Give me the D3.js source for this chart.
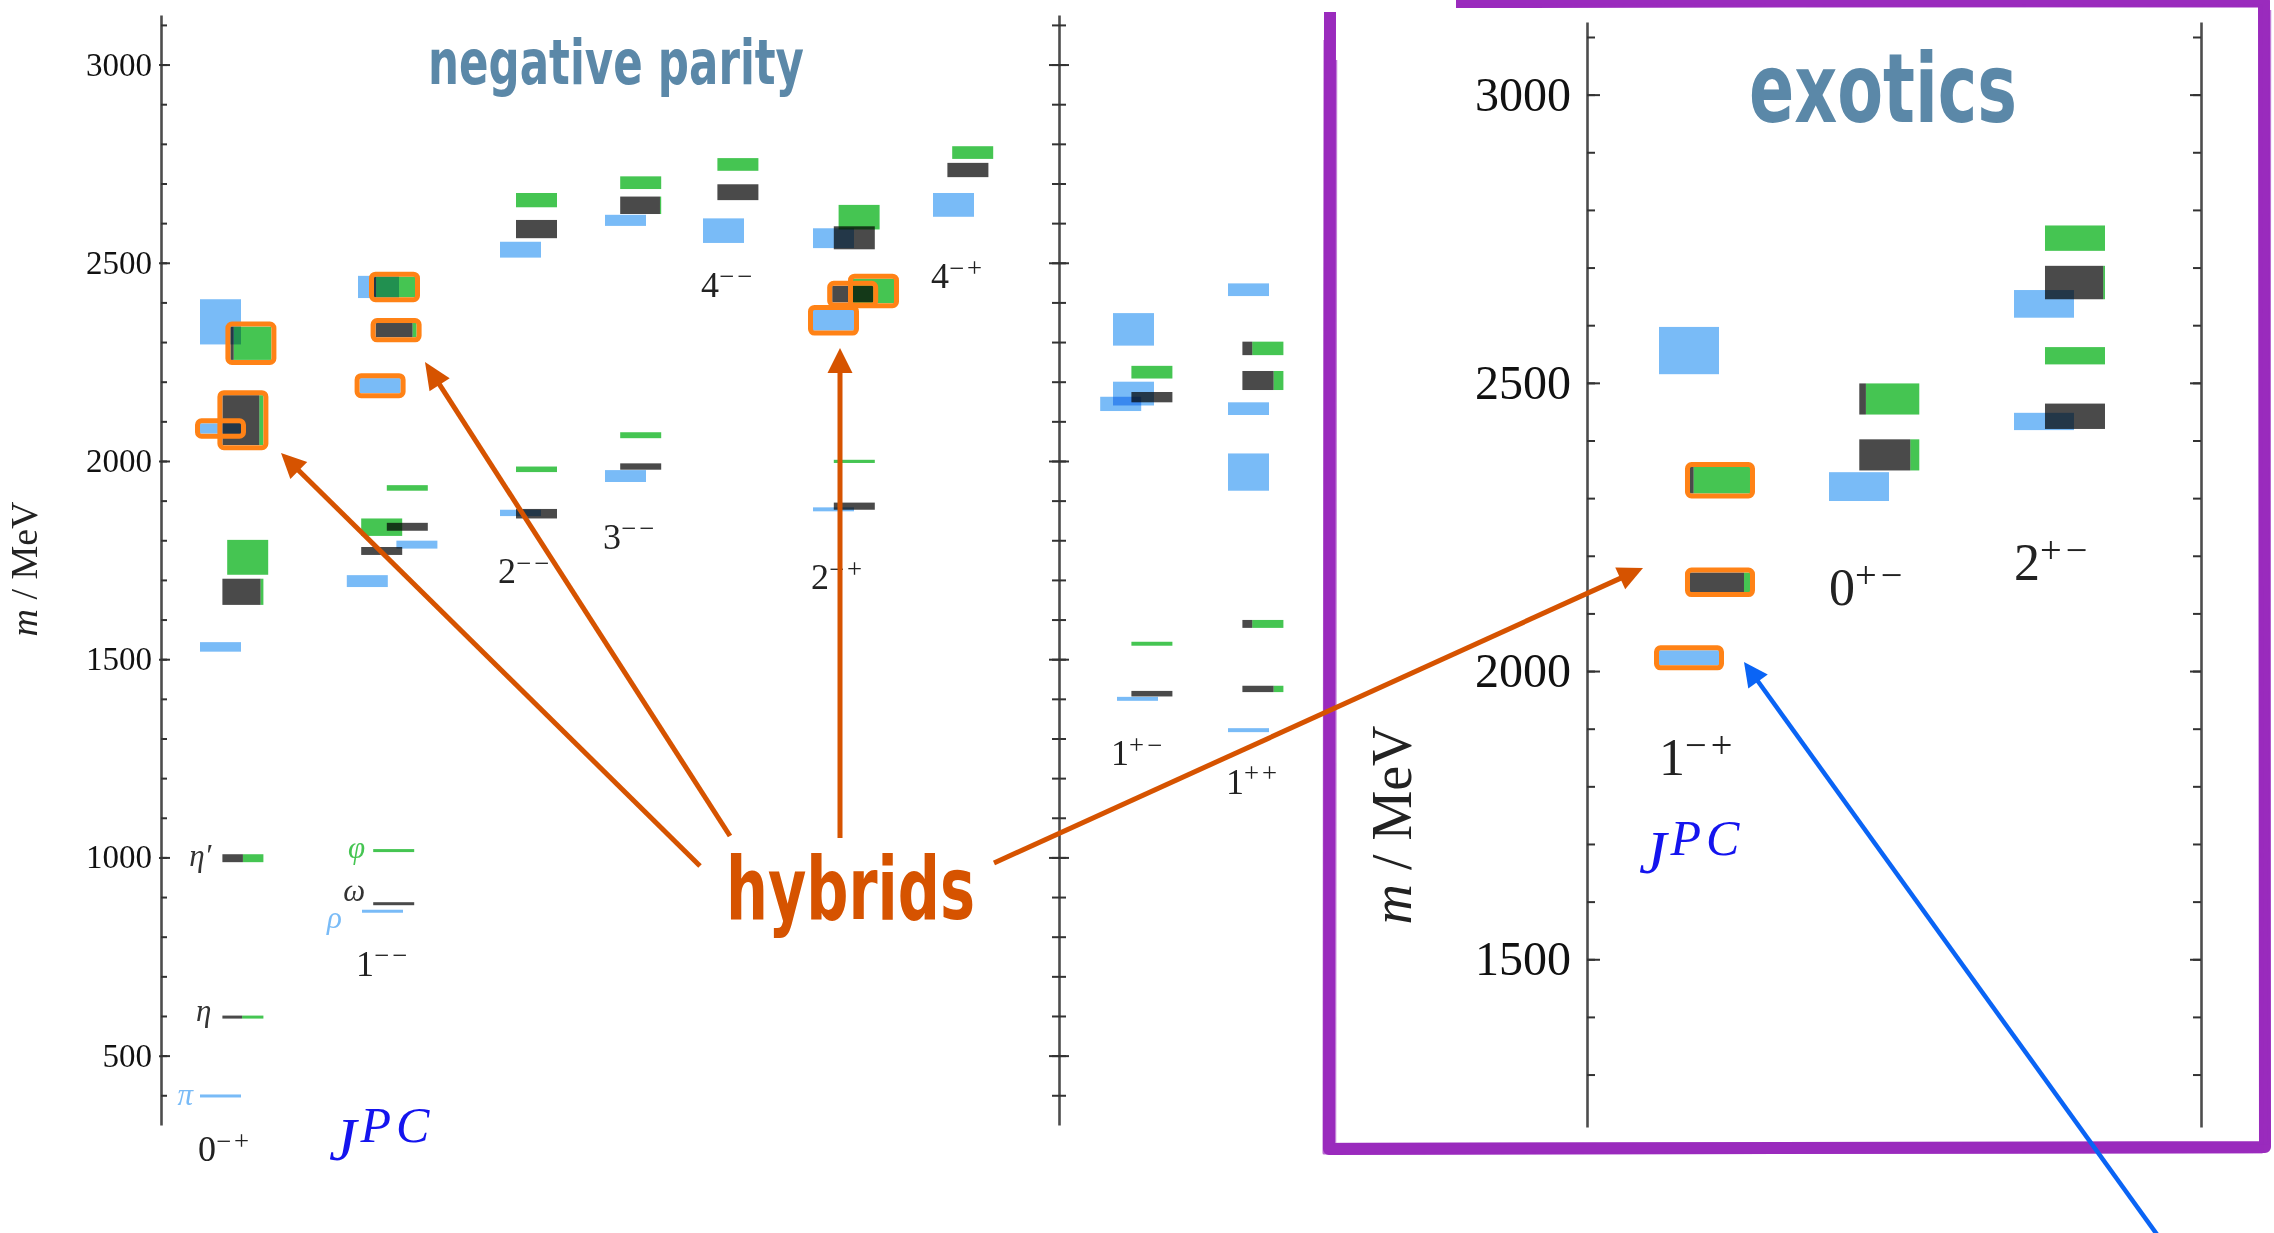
<!DOCTYPE html>
<html>
<head>
<meta charset="utf-8">
<script src="https://cdn.jsdelivr.net/npm/d3@7"></script>
<style>
  html, body { margin: 0; padding: 0; background: #fff; }
  svg { display: block; }
</style>
</head>
<body>
<svg id="chart" width="2274" height="1233"></svg>
<script>
// ---------- data ----------
const mainCols = ["0-+", "1--", "2--", "3--", "4--", "2-+", "4-+", "1+-", "1++"];
const exoticCols = ["1-+", "0+-", "2+-"];
const mainTicks = [500, 1000, 1500, 2000, 2500, 3000];
const exoticTicks = [1500, 2000, 2500, 3000];

// isovector states: [JPC, mass, error, slot, hybrid]
const isovector = [
  ["0-+", 399, 3, 0, 0], ["0-+", 1531, 12, 0, 0], ["0-+", 2082, 13, 0, 1], ["0-+", 2351, 57, 0, 0],
  ["1--", 865, 3, 0.25, 0], ["1--", 1697, 15, -0.7, 0], ["1--", 1789, 10, 2.4, 0],
  ["1--", 2190, 19, 0.1, 1], ["1--", 2439, 28, 0, 0],
  ["2--", 1869, 8, 0, 0], ["2--", 2533, 20, 0, 0],
  ["3--", 1962, 15, 0, 0], ["3--", 2607, 14, 0, 0],
  ["4--", 2581, 31, 0, 0],
  ["2-+", 1878, 5, 0, 0], ["2-+", 2355, 26, 0, 1], ["2-+", 2562, 25, 0, 0],
  ["4-+", 2646, 30, 0, 0],
  ["1+-", 1400, 5, 0.25, 0], ["1+-", 2144, 18, -0.8, 0], ["1+-", 2170, 30, 0, 0], ["1+-", 2332, 41, 0, 0],
  ["1++", 1321, 5, 0, 0], ["1++", 1972, 47, 0, 0], ["1++", 2132, 16, 0, 0], ["1++", 2432, 16, 0, 0]
];

// isoscalar states: [JPC, mass, error, slot, light fraction, hybrid]
const isoscalar = [
  ["0-+", 598, 3, 1.4, 0.48, 0], ["0-+", 998, 10, 1.4, 0.5, 0], ["0-+", 1670, 33, 1.4, 0.93, 0],
  ["0-+", 1757, 44, 1.7, 0, 0], ["0-+", 2103, 63, 1.4, 0.9, 1], ["0-+", 2297, 42, 1.9, 0.08, 1],
  ["1--", 884, 3, 0.95, 1, 0], ["1--", 1018, 3, 0.95, 0, 0], ["1--", 1773, 10, 0.2, 1, 0],
  ["1--", 1833, 22, 0.2, 0, 0], ["1--", 1834, 10, 1.8, 1, 0], ["1--", 1932, 7, 1.8, 0, 0],
  ["1--", 2330, 18, 1.1, 0.9, 1], ["1--", 2439, 26, 1.0, 0.05, 1],
  ["2--", 1867, 12, 1, 1, 0], ["2--", 1979, 7, 1, 0, 0], ["2--", 2585, 23, 1, 1, 0], ["2--", 2658, 18, 1, 0, 0],
  ["3--", 1986, 8, 0.95, 1, 0], ["3--", 2065, 7.5, 0.95, 0, 0], ["3--", 2645, 22, 0.95, 0.97, 0], ["3--", 2702, 16, 0.95, 0, 0],
  ["4--", 2678, 20, 0.9, 1, 0], ["4--", 2748, 16, 0.9, 0, 0],
  ["2-+", 1886, 9, 1.3, 1, 0], ["2-+", 1999, 4, 1.3, 0, 0], ["2-+", 2421, 21, 1.2, 1, 1],
  ["2-+", 2429, 31, 2.5, 0, 1], ["2-+", 2563, 29, 1.3, 1, 0], ["2-+", 2615, 31, 1.6, 0, 0],
  ["4-+", 2734, 18, 0.9, 1, 0], ["4-+", 2778, 16, 1.2, 0, 0],
  ["1+-", 1413, 7, 1.15, 1, 0], ["1+-", 1539, 5, 1.15, 0, 0], ["1+-", 2161, 13, 1.15, 1, 0], ["1+-", 2224, 16, 1.15, 0, 0],
  ["1++", 1425, 8, 0.9, 0.76, 0], ["1++", 1589, 10, 0.9, 0.24, 0], ["1++", 2203, 24, 0.9, 0.76, 0], ["1++", 2284, 17, 0.9, 0.24, 0]
];

const exoticIsovector = [
  ["1-+", 2023, 13, 0, 1], ["1-+", 2556, 41, 0, 0],
  ["0+-", 2320, 25, 0, 0],
  ["2+-", 2433, 15, 0, 0], ["2+-", 2637, 24, 0, 0]
];
const exoticIsoscalar = [
  ["1-+", 2154, 17, 1.33, 0.9, 1], ["1-+", 2331, 23, 1.33, 0.06, 1],
  ["0+-", 2375, 27, 1.3, 0.85, 0], ["0+-", 2472, 27, 1.3, 0.11, 0],
  ["2+-", 2442, 22, 1.33, 1, 0], ["2+-", 2547, 15, 1.33, 0, 0],
  ["2+-", 2674, 29, 1.33, 0.97, 0], ["2+-", 2751, 22, 1.33, 0, 0]
];

// named ground states: [name, JPC, mass, colour, slot]
const groundNames = [
  ["\u03c0", "0-+", 399, "blue", 0], ["\u03b7", "0-+", 598, "dark", 1.4], ["\u03b7\u2032", "0-+", 998, "dark", 1.4],
  ["\u03c1", "1--", 865, "blue", 0.25], ["\u03c9", "1--", 884, "dark", 0.95], ["\u03c6", "1--", 1018, "green", 0.95]
];

// ---------- layout ----------
const COL = {
  blue: "#79bbf7", dark: "#4a4a4a", green: "#45c552", orange: "#ff8216",
  title: "#5b88a8", hybrid: "#d65300", arrowBlue: "#0a64f5", jpc: "#1414ee", purple: "#9a2bbd", axis: "#4d4d4d"
};
const SERIF = "'Liberation Serif','DejaVu Serif',serif";
const NARROW = "'Liberation Sans Narrow','DejaVu Sans Condensed','Roboto','Arial Narrow',sans-serif";

const labelMassMain = {"0-+": 234, "1--": 701, "2--": 1692, "3--": 1778, "4--": 2414, "2-+": 1677, "4-+": 2436, "1+-": 1233, "1++": 1160};
const labelMassExo = {"1-+": 1820, "0+-": 2115, "2+-": 2158};

const svg = d3.select("#chart");
svg.append("rect").attr("width", 2274).attr("height", 1233).attr("fill", "#fff");

const yMain = d3.scaleLinear().domain([325, 3125]).range([1125, 15]);
const yExo = d3.scaleLinear().domain([1209, 3126]).range([1127, 22]);
const xMain = d3.scaleOrdinal().domain(mainCols).range([200, 358, 500, 605, 703, 813, 933, 1113, 1228]);
const xExo = d3.scaleOrdinal().domain(exoticCols).range([1659, 1829, 2014]);

function drawStates(g, vec, sca, x, y, w, unit) {
  let top = d => y(d[1] + d[2]);
  let hgt = d => Math.max(3, y(d[1] - d[2]) - y(d[1] + d[2]));
  let left = d => x(d[0]) + d[3] * unit;

  g.selectAll("rect.v").data(vec).join("rect").attr("class", "v")
    .attr("x", left).attr("y", top).attr("width", w).attr("height", hgt)
    .attr("fill", COL.blue).style("mix-blend-mode", "multiply");
  g.selectAll("rect.l").data(sca).join("rect").attr("class", "l")
    .attr("x", left).attr("y", top).attr("width", d => w * d[4]).attr("height", hgt)
    .attr("fill", COL.dark).style("mix-blend-mode", "multiply");
  g.selectAll("rect.s").data(sca).join("rect").attr("class", "s")
    .attr("x", d => left(d) + w * d[4]).attr("y", top).attr("width", d => w * (1 - d[4])).attr("height", hgt)
    .attr("fill", COL.green).style("mix-blend-mode", "multiply");

  let hyb = vec.filter(d => d[4]).concat(sca.filter(d => d[5]));
  g.selectAll("rect.h").data(hyb).join("rect").attr("class", "h")
    .attr("x", d => left(d) - 2.5).attr("y", d => top(d) - 2.5)
    .attr("width", w + 5).attr("height", d => hgt(d) + 5)
    .attr("rx", 4).attr("fill", "none").attr("stroke", COL.orange).attr("stroke-width", 5);
}

function styleAxis(g, fontSize) {
  g.select(".domain").attr("stroke", COL.axis).attr("stroke-width", 2.6);
  g.selectAll(".tick line").attr("stroke", "#333").attr("stroke-width", 2);
  g.selectAll(".tick text").attr("font-family", SERIF).attr("font-size", fontSize).attr("fill", "#111");
}

function axisPair(xPos, y, minor, major, right, left, labels, fontSize, pad) {
  let g = svg.append("g").attr("transform", `translate(${xPos},0)`);
  let fmt = d3.format("d");
  if (right) {
    g.append("g").call(d3.axisRight(y).tickValues(minor).tickSize(right[0]).tickSizeOuter(0).tickFormat(""));
    g.append("g").call(d3.axisRight(y).tickValues(major).tickSize(right[1]).tickSizeOuter(0).tickFormat(""));
  }
  if (left) {
    g.append("g").call(d3.axisLeft(y).tickValues(minor).tickSize(left[0]).tickSizeOuter(0).tickFormat(""));
    g.append("g").call(d3.axisLeft(y).tickValues(major).tickSize(left[1]).tickSizeOuter(0).tickFormat(""));
  }
  if (labels) {
    g.append("g").call(d3.axisLeft(y).tickValues(major).tickSize(0).tickPadding(pad).tickSizeOuter(0).tickFormat(fmt))
      .call(a => a.select(".domain").remove());
  }
  g.selectAll("g").each(function() { styleAxis(d3.select(this), fontSize); });
  g.selectAll("g").filter((d, i) => i > 0).select(".domain").remove();
  return g;
}

function jpcLabel(g, name, x, yb, size) {
  let t = g.append("text").attr("x", x).attr("y", yb)
    .attr("font-family", SERIF).attr("font-size", size).attr("fill", "#222");
  t.append("tspan").text(name[0]);
  t.append("tspan").attr("dy", -size * 0.32).attr("font-size", size * 0.74)
    .attr("letter-spacing", size * 0.08)
    .text(name.slice(1).replace(/-/g, "\u2212"));
}

function jpcTitle(x, yb) {
  let t = svg.append("text").attr("x", x).attr("y", yb)
    .attr("font-family", SERIF).attr("font-style", "italic").attr("fill", COL.jpc);
  t.append("tspan").attr("font-size", 62).text("J");
  t.append("tspan").attr("font-size", 50).attr("dy", -18).attr("dx", 4).attr("letter-spacing", 5).text("PC");
}

function massLabel(x, y, size) {
  let t = svg.append("text").attr("transform", `translate(${x},${y}) rotate(-90)`)
    .attr("text-anchor", "middle").attr("font-family", SERIF).attr("font-size", size).attr("fill", "#222");
  t.append("tspan").attr("font-style", "italic").text("m");
  t.append("tspan").text(" / MeV");
}

function arrow(g, x1, y1, x2, y2, color, w, len, half) {
  let dx = x2 - x1, dy = y2 - y1, L = Math.hypot(dx, dy), ux = dx / L, uy = dy / L;
  let bx = x2 - ux * len, by = y2 - uy * len;
  g.append("line").attr("x1", x1).attr("y1", y1).attr("x2", bx + ux * 3).attr("y2", by + uy * 3)
    .attr("stroke", color).attr("stroke-width", w);
  g.append("path").attr("d", `M${x2},${y2}L${bx - uy * half},${by + ux * half}L${bx + uy * half},${by - ux * half}Z`)
    .attr("fill", color);
}

// ---------- axes ----------
axisPair(161, yMain, d3.range(400, 3101, 100), mainTicks, [6, 9], [0, 2], true, 33, 9);
axisPair(1059, yMain, d3.range(400, 3101, 100), mainTicks, [7, 10], [7, 10], false, 33, 0);
axisPair(1587, yExo, d3.range(1300, 3101, 100), exoticTicks, [8, 13], null, true, 48, 16);
axisPair(2201, yExo, d3.range(1300, 3101, 100), exoticTicks, null, [8, 11], false, 48, 0);

massLabel(37, 569, 38);
massLabel(1411, 825, 56);

// ---------- states ----------
let gMain = svg.append("g");
drawStates(gMain, isovector, isoscalar, xMain, yMain, 41, 16);
let gExo = svg.append("g");
drawStates(gExo, exoticIsovector, exoticIsoscalar, xExo, yExo, 60, 23.3);

let gLab = svg.append("g");
mainCols.forEach(c => jpcLabel(gLab, c, xMain(c) - 2, yMain(labelMassMain[c]), 36));
exoticCols.forEach(c => jpcLabel(gLab, c, xExo(c), yExo(labelMassExo[c]), 52));

// label gap to the left of its line, and vertical shift
let nameGap = {"\u03c0": 7, "\u03b7": 11, "\u03b7\u2032": 11, "\u03c1": 20, "\u03c9": 8, "\u03c6": 8};
let nameDy = {"\u03c0": "0.3em", "\u03b7": "0.15em", "\u03b7\u2032": "0.25em", "\u03c1": "0.55em", "\u03c9": "-0.08em", "\u03c6": "0.25em"};
gLab.selectAll("text.nm").data(groundNames).join("text").attr("class", "nm")
  .attr("x", d => xMain(d[1]) + d[4] * 16 - nameGap[d[0]])
  .attr("y", d => yMain(d[2]))
  .attr("dy", d => nameDy[d[0]])
  .attr("text-anchor", "end")
  .attr("font-family", SERIF).attr("font-style", "italic").attr("font-size", 31)
  .attr("fill", d => d[3] === "blue" ? COL.blue : d[3] === "green" ? COL.green : "#333")
  .text(d => d[0]);

jpcTitle(329, 1160);
jpcTitle(1639, 873);

// ---------- titles ----------
svg.append("text").attr("x", 428).attr("y", 84)
  .attr("font-family", NARROW).attr("font-weight", "bold").attr("font-size", 62)
  .attr("fill", COL.title).attr("textLength", 376).attr("lengthAdjust", "spacingAndGlyphs")
  .text("negative parity");
svg.append("text").attr("x", 1749).attr("y", 122)
  .attr("font-family", NARROW).attr("font-weight", "bold").attr("font-size", 96)
  .attr("fill", COL.title).attr("textLength", 268).attr("lengthAdjust", "spacingAndGlyphs")
  .text("exotics");

// ---------- purple frame ----------
let frame = svg.append("g").attr("fill", "none").attr("stroke", COL.purple).attr("stroke-linejoin", "round");
let framePts = [[1456, 2], [2264, 1], [2265, 1147], [1329, 1149], [1330, 12]];
frame.append("path").attr("d", d3.line()(framePts)).attr("stroke-width", 12);
frame.append("path").attr("d", d3.line()([[1460, 5], [2261, 6], [2262, 1152], [1324, 1153], [1325, 40]]))
  .attr("stroke-width", 3).attr("opacity", 0.7);
frame.append("path").attr("d", d3.line()([[2270, 10], [2269, 1143], [1335, 1144], [1336, 60]]))
  .attr("stroke-width", 2.5).attr("opacity", 0.6);

// ---------- annotations ----------
let ann = svg.append("g");
arrow(ann, 700, 866, 281, 453, COL.hybrid, 5, 25, 12);
arrow(ann, 730, 836, 425, 362, COL.hybrid, 5, 27, 12);
arrow(ann, 840, 838, 840, 348, COL.hybrid, 5, 25, 12.5);
arrow(ann, 994, 863, 1643, 568, COL.hybrid, 5, 25, 12);
arrow(ann, 2161, 1240, 1744, 662, COL.arrowBlue, 4.5, 24, 12);

svg.append("text").attr("x", 726).attr("y", 919)
  .attr("font-family", NARROW).attr("font-weight", "bold").attr("font-size", 88)
  .attr("fill", COL.hybrid).attr("textLength", 249).attr("lengthAdjust", "spacingAndGlyphs")
  .text("hybrids");
</script>
</body>
</html>
